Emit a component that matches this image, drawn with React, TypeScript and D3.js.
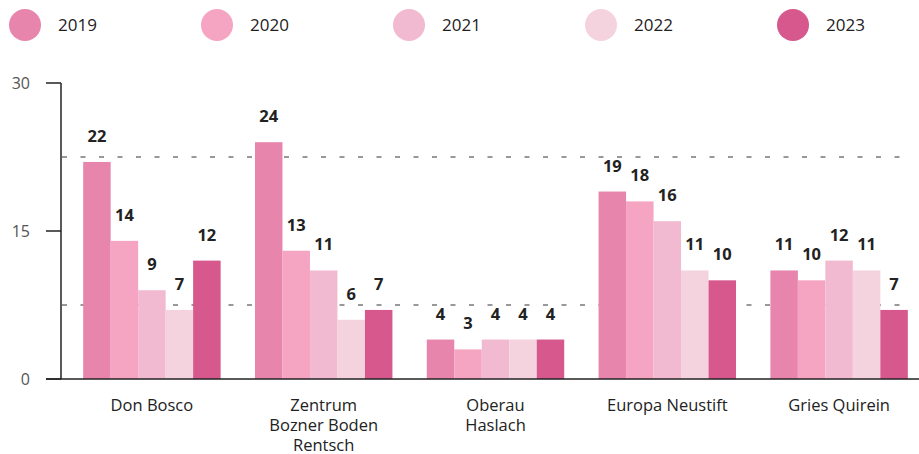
import React from "react"
import * as d3 from "d3"

const years = ["2019", "2020", "2021", "2022", "2023"]
const colors = ["#e785ad", "#f5a5c1", "#f2bad0", "#f5d3de", "#d6588d"]
const districts = [
  ["Don Bosco"],
  ["Zentrum", "Bozner Boden", "Rentsch"],
  ["Oberau", "Haslach"],
  ["Europa Neustift"],
  ["Gries Quirein"],
]
const values = [
  [22, 14, 9, 7, 12],
  [24, 13, 11, 6, 7],
  [4, 3, 4, 4, 4],
  [19, 18, 16, 11, 10],
  [11, 10, 12, 11, 7],
]
const yTicks = [0, 15, 30]
const gridLines = [7.5, 22.5]

const width = 919
const height = 454
const font = "'Open Sans', 'Noto Sans', sans-serif"

export default function App() {
  const y = d3.scaleLinear().domain([0, 30]).range([379, 83])
  const keys = districts.map((d) => d.join(" "))
  const x = d3
    .scaleBand()
    .domain(keys)
    .range([66, 925])
    .paddingInner(0.2)
    .paddingOuter(0.1)
  const xi = d3
    .scaleBand()
    .domain(years)
    .range([0, x.bandwidth()])

  return (
    <svg
      width={width}
      height={height}
      style={{ position: "absolute", left: 0, top: 0 }}
      fontFamily={font}
    >
      {/* legend */}
      {years.map((yr, i) => (
        <g key={yr} transform={`translate(${25 + i * 192},25)`}>
          <circle r={16} fill={colors[i]} />
          <text x={33} y={6} fontSize={17} fill="#222">
            {yr}
          </text>
        </g>
      ))}

      {/* grid */}
      {gridLines.map((g) => (
        <line
          key={g}
          x1={62}
          x2={908}
          y1={y(g)}
          y2={y(g)}
          stroke="#333"
          strokeWidth={1}
          strokeDasharray="5,13.5"
        />
      ))}

      {/* bars */}
      {keys.map((k, gi) => (
        <g key={k} transform={`translate(${x(k)},0)`}>
          {values[gi].map((v, i) => (
            <g key={i}>
              <rect
                x={xi(years[i])}
                y={y(v)}
                width={xi.bandwidth()}
                height={y(0) - y(v)}
                fill={colors[i]}
              />
              <text
                x={(xi(years[i]) as number) + xi.bandwidth() / 2}
                y={y(v) - 20}
                textAnchor="middle"
                fontSize={16.5}
                fontWeight="bold"
                fill="#222"
              >
                {v}
              </text>
            </g>
          ))}
          {districts[gi].map((line, li) => (
            <text
              key={li}
              x={x.bandwidth() / 2}
              y={411 + li * 20}
              textAnchor="middle"
              fontSize={16.5}
              fill="#222"
            >
              {line}
            </text>
          ))}
        </g>
      ))}

      {/* y axis */}
      <line x1={61} x2={61} y1={83} y2={379} stroke="#222" strokeWidth={1.5} />
      <line x1={46} x2={919} y1={379} y2={379} stroke="#222" strokeWidth={1.5} />
      {yTicks.map((t) => (
        <g key={t}>
          <line x1={46} x2={61} y1={y(t)} y2={y(t)} stroke="#222" strokeWidth={1.5} />
          <text
            x={30}
            y={y(t) + 6}
            textAnchor="end"
            fontSize={16}
            fill="#555"
          >
            {t}
          </text>
        </g>
      ))}
    </svg>
  )
}
